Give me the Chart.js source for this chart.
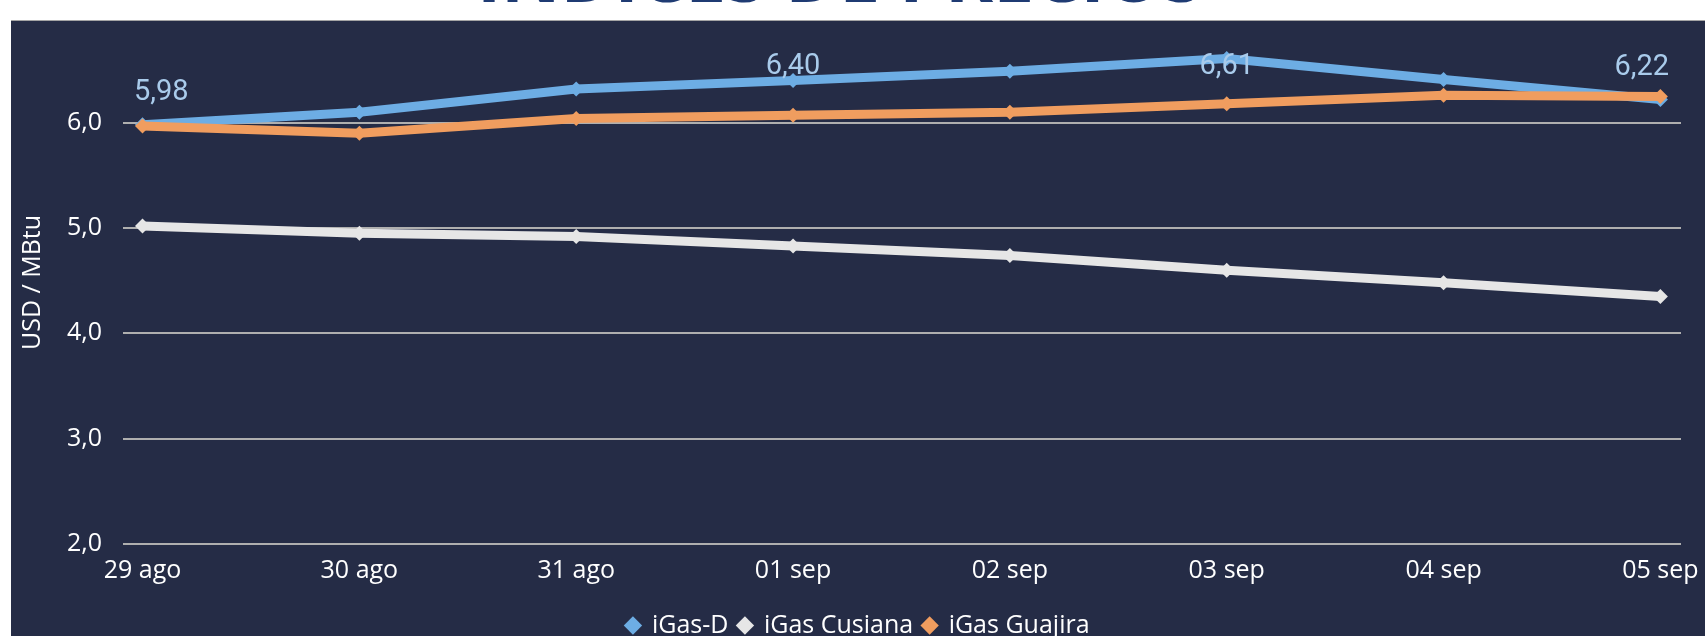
<!DOCTYPE html>
<html lang="es">
<head>
<meta charset="utf-8">
<title>Índices de precios</title>
<script src="https://cdn.jsdelivr.net/npm/chart.js@4.4.1/dist/chart.umd.min.js"></script>
<style>
  html, body { margin: 0; padding: 0; background: #fff; overflow: hidden; }
  body { width: 1705px; height: 636px; position: relative; }
  #titulo {
    position: absolute; left: 0; top: -63px; width: 1680px;
    text-align: center; font: bold 73px "Open Sans", sans-serif; line-height: 73px;
    color: #1F3B73; white-space: nowrap;
  }
  #panel {
    position: absolute; left: 11px; top: 20px; right: 0; bottom: 0;
    background: #252C46; border-top: 1px solid #A5A5A5;
  }
  #caja { position: absolute; left: 0; top: 0; width: 1694px; height: 627px; }
</style>
</head>
<body>
<div id="titulo">ÍNDICES DE PRECIOS</div>
<div id="panel">
  <div id="caja"><canvas id="grafico"></canvas></div>
</div>
<script>
// Datos (USD / MBtu)
const fechas = ['29 ago', '30 ago', '31 ago', '01 sep', '02 sep', '03 sep', '04 sep', '05 sep'];
const igasD = [5.98, 6.10, 6.32, 6.40, 6.49, 6.61, 6.41, 6.22];
const igasCusiana = [5.02, 4.95, 4.92, 4.83, 4.74, 4.60, 4.48, 4.35];
const igasGuajira = [5.97, 5.90, 6.04, 6.07, 6.10, 6.18, 6.26, 6.25];
const yTicks = [2, 3, 4, 5, 6];
// puntos de iGas-D que llevan etiqueta
const etiquetasD = [0, 3, 5, 7];

const fuente = { family: '"Open Sans", sans-serif', size: 25 };
const azul = '#6DADE4';
const blanco = '#E6E6E6';
const naranja = '#F09D5F';

function serie(label, valores, color, order) {
  return {
    label,
    data: valores.map((v, i) => ({ x: i, y: v })),
    borderColor: color,
    backgroundColor: color,
    borderWidth: 9,
    borderJoinStyle: 'round',
    pointStyle: 'rectRot',
    pointRadius: 7.5,
    pointBorderWidth: 0,
    pointBackgroundColor: color,
    tension: 0,
    order
  };
}

// Etiquetas de datos de iGas-D (se mantienen dentro del área)
const etiquetasPlugin = {
  id: 'etiquetas',
  afterDatasetsDraw(chart) {
    const { ctx, chartArea } = chart;
    const meta = chart.getDatasetMeta(0);
    ctx.save();
    ctx.font = '29px Roboto';
    ctx.fillStyle = '#A9CBEB';
    ctx.textAlign = 'center';
    ctx.textBaseline = 'alphabetic';
    etiquetasD.forEach(i => {
      const pt = meta.data[i];
      const txt = igasD[i].toFixed(2).replace('.', ',');
      const w = ctx.measureText(txt).width;
      let x = Math.max(pt.x, chartArea.left + 11 + w / 2);
      x = Math.min(x, chartArea.right - 12 - w / 2);
      const y = Math.max(pt.y - 25, chartArea.top + 53);
      ctx.fillText(txt, x, y);
    });
    ctx.restore();
  }
};

new Chart(document.getElementById('grafico'), {
  type: 'line',
  data: {
    datasets: [
      serie('iGas-D', igasD, azul, 3),
      serie('iGas Cusiana', igasCusiana, blanco, 2),
      serie('iGas Guajira', igasGuajira, naranja, 1)
    ]
  },
  options: {
    responsive: true,
    maintainAspectRatio: false,
    animation: false,
    layout: { autoPadding: false, padding: 0 },
    plugins: {
      tooltip: { enabled: false },
      legend: {
        position: 'bottom',
        labels: {
          color: '#fff',
          font: fuente,
          usePointStyle: true,
          pointStyle: 'rectRot',
          boxWidth: 13,
          boxHeight: 13,
          padding: 10,
          sort: (a, b) => a.datasetIndex - b.datasetIndex,
          generateLabels: chart =>
            Chart.defaults.plugins.legend.labels.generateLabels(chart)
              .map(l => ({ ...l, lineWidth: 0 }))
        }
      }
    },
    scales: {
      x: {
        type: 'linear',
        min: -0.09,
        max: 7.095,
        afterBuildTicks: s => { s.ticks = fechas.map((f, i) => ({ value: i })); },
        afterFit: s => {
          s.height = 59;
          s.paddingLeft = 0;
          s.paddingRight = 24;
        },
        grid: { display: false, drawTicks: false },
        border: { display: false },
        ticks: {
          color: '#fff',
          font: fuente,
          padding: 12,
          maxRotation: 0,
          autoSkip: false,
          callback: v => fechas[v]
        }
      },
      y: {
        min: 2,
        max: 6.966,
        afterBuildTicks: s => { s.ticks = yTicks.map(v => ({ value: v })); },
        afterFit: s => {
          s.width = 112;
          s.paddingTop = 0;
          s.paddingBottom = 0;
        },
        grid: { color: '#AFAFAF', lineWidth: 2, drawTicks: false },
        border: { display: false },
        ticks: {
          color: '#fff',
          font: fuente,
          padding: 21,
          callback: v => v.toFixed(1).replace('.', ',')
        },
        title: {
          display: true,
          text: 'USD / MBtu',
          color: '#fff',
          font: fuente,
          padding: { top: 7, bottom: 0 }
        }
      }
    }
  },
  plugins: [etiquetasPlugin]
});
</script>
</body>
</html>
